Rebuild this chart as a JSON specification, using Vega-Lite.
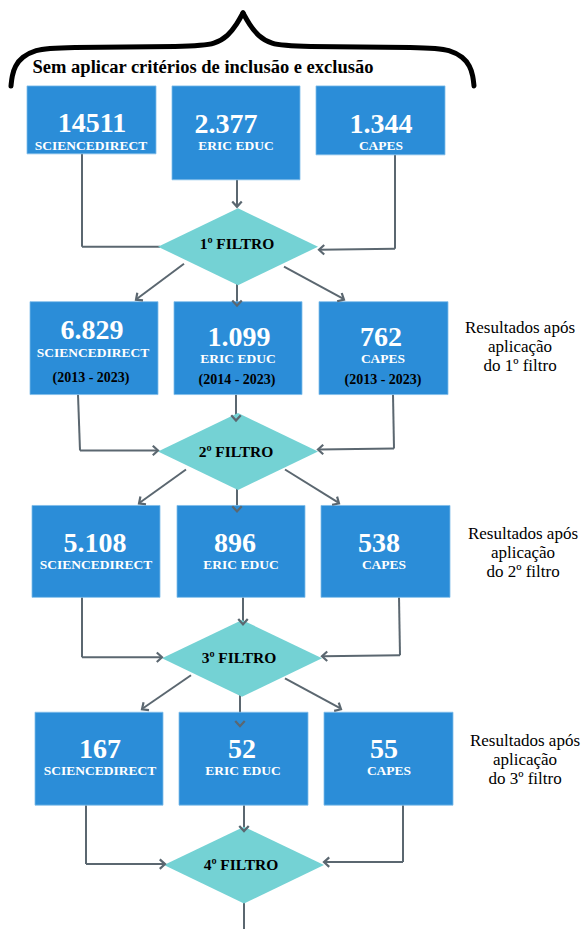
{
  "$schema": "https://vega.github.io/schema/vega-lite/v6.json",
  "width": 582,
  "height": 930,
  "autosize": {"type": "fit", "contains": "padding"},
  "padding": 0,
  "background": "white",
  "config": {"view": {"stroke": null}, "text": {"font": "Liberation Serif"}},
  "datasets": {
    "brace": [
      {"half": "L", "o": 1, "x": 11, "y": 86}, {"half": "L", "o": 2, "x": 12, "y": 76}, {"half": "L", "o": 3, "x": 15, "y": 66}, {"half": "L", "o": 4, "x": 22, "y": 57}, {"half": "L", "o": 5, "x": 35, "y": 50}, {"half": "L", "o": 6, "x": 55, "y": 47}, {"half": "L", "o": 7, "x": 195, "y": 47}, {"half": "L", "o": 8, "x": 215, "y": 44}, {"half": "L", "o": 9, "x": 228, "y": 36}, {"half": "L", "o": 10, "x": 237, "y": 24}, {"half": "L", "o": 11, "x": 243, "y": 13},
      {"half": "R", "o": 1, "x": 243, "y": 13}, {"half": "R", "o": 2, "x": 249, "y": 24}, {"half": "R", "o": 3, "x": 258, "y": 36}, {"half": "R", "o": 4, "x": 271, "y": 44}, {"half": "R", "o": 5, "x": 291, "y": 47}, {"half": "R", "o": 6, "x": 430, "y": 47}, {"half": "R", "o": 7, "x": 450, "y": 50}, {"half": "R", "o": 8, "x": 463, "y": 57}, {"half": "R", "o": 9, "x": 470, "y": 66}, {"half": "R", "o": 10, "x": 473, "y": 76}, {"half": "R", "o": 11, "x": 474, "y": 86}
    ],
    "links": [
      {"x": 82, "y": 154, "x2": 82, "y2": 247}, {"x": 82, "y": 247, "x2": 160, "y2": 247},
      {"x": 237, "y": 180, "x2": 237, "y2": 206},
      {"x": 395, "y": 155, "x2": 395, "y2": 249}, {"x": 395, "y": 249, "x2": 319, "y2": 250},
      {"x": 184, "y": 264, "x2": 137, "y2": 299}, {"x": 237, "y": 280, "x2": 237, "y2": 305}, {"x": 284, "y": 267, "x2": 343, "y2": 299},
      {"x": 78, "y": 395, "x2": 80, "y2": 451}, {"x": 80, "y": 451, "x2": 157, "y2": 451},
      {"x": 236, "y": 395, "x2": 236, "y2": 420},
      {"x": 393, "y": 395, "x2": 394, "y2": 449}, {"x": 394, "y": 449, "x2": 319, "y2": 450},
      {"x": 186, "y": 470, "x2": 140, "y2": 503}, {"x": 237, "y": 485, "x2": 237, "y2": 511}, {"x": 285, "y": 470, "x2": 338, "y2": 503},
      {"x": 82, "y": 598, "x2": 82, "y2": 658}, {"x": 82, "y": 658, "x2": 161, "y2": 658},
      {"x": 243, "y": 598, "x2": 243, "y2": 624},
      {"x": 399, "y": 598, "x2": 400, "y2": 656}, {"x": 400, "y": 656, "x2": 323, "y2": 657},
      {"x": 191, "y": 676, "x2": 143, "y2": 709}, {"x": 240, "y": 690, "x2": 240, "y2": 726}, {"x": 285, "y": 679, "x2": 340, "y2": 709},
      {"x": 86, "y": 806, "x2": 86, "y2": 865}, {"x": 86, "y": 865, "x2": 164, "y2": 865},
      {"x": 244, "y": 806, "x2": 244, "y2": 831},
      {"x": 403, "y": 806, "x2": 403, "y2": 863}, {"x": 403, "y": 863, "x2": 325, "y2": 863},
      {"x": 244, "y": 895, "x2": 244, "y2": 930}
    ],
    "heads": [
      {"x": 237, "y": 207, "angle": 0}, {"x": 319, "y": 250, "angle": 90}, {"x": 136, "y": 300, "angle": 53}, {"x": 237, "y": 306, "angle": 0}, {"x": 344, "y": 300, "angle": -61},
      {"x": 158, "y": 451, "angle": -90}, {"x": 236, "y": 421, "angle": 0}, {"x": 318, "y": 450, "angle": 90}, {"x": 139, "y": 504, "angle": 54}, {"x": 237, "y": 512, "angle": 0}, {"x": 339, "y": 504, "angle": -58},
      {"x": 162, "y": 658, "angle": -90}, {"x": 243, "y": 625, "angle": 0}, {"x": 322, "y": 657, "angle": 90}, {"x": 142, "y": 710, "angle": 55}, {"x": 240, "y": 727, "angle": 0}, {"x": 341, "y": 710, "angle": -61},
      {"x": 165, "y": 865, "angle": -90}, {"x": 244, "y": 832, "angle": 0}, {"x": 324, "y": 863, "angle": 90}
    ],
    "boxes": [
      {"x": 27, "x2": 156, "y": 86, "y2": 154}, {"x": 172, "x2": 300, "y": 86, "y2": 180}, {"x": 316, "x2": 445, "y": 86, "y2": 155},
      {"x": 30, "x2": 158, "y": 302, "y2": 395}, {"x": 174, "x2": 302, "y": 302, "y2": 395}, {"x": 319, "x2": 448, "y": 302, "y2": 395},
      {"x": 32, "x2": 160, "y": 506, "y2": 598}, {"x": 177, "x2": 305, "y": 506, "y2": 598}, {"x": 321, "x2": 450, "y": 506, "y2": 598},
      {"x": 35, "x2": 163, "y": 713, "y2": 806}, {"x": 179, "x2": 308, "y": 713, "y2": 806}, {"x": 324, "x2": 453, "y": 713, "y2": 806}
    ],
    "diamonds": [
      {"x": 238, "y": 247}, {"x": 238, "y": 452}, {"x": 242, "y": 659}, {"x": 244, "y": 866}
    ],
    "texts": [
      {"kind": "title", "x": 203, "y": 67, "t": "Sem aplicar critérios de inclusão e exclusão"},
      {"kind": "num", "x": 92, "y": 124, "t": "14511"}, {"kind": "num", "x": 226, "y": 125, "t": "2.377"}, {"kind": "num", "x": 381, "y": 125, "t": "1.344"},
      {"kind": "num", "x": 92, "y": 331, "t": "6.829"}, {"kind": "num", "x": 239, "y": 338, "t": "1.099"}, {"kind": "num", "x": 381, "y": 338, "t": "762"},
      {"kind": "num", "x": 95, "y": 545, "t": "5.108"}, {"kind": "num", "x": 235, "y": 545, "t": "896"}, {"kind": "num", "x": 379, "y": 545, "t": "538"},
      {"kind": "num", "x": 100, "y": 751, "t": "167"}, {"kind": "num", "x": 242, "y": 751, "t": "52"}, {"kind": "num", "x": 384, "y": 751, "t": "55"},
      {"kind": "label", "x": 91, "y": 146, "t": "SCIENCEDIRECT"}, {"kind": "label", "x": 236, "y": 146, "t": "ERIC EDUC"}, {"kind": "label", "x": 381, "y": 146, "t": "CAPES"},
      {"kind": "label", "x": 93, "y": 353, "t": "SCIENCEDIRECT"}, {"kind": "label", "x": 238, "y": 359, "t": "ERIC EDUC"}, {"kind": "label", "x": 383, "y": 359, "t": "CAPES"},
      {"kind": "label", "x": 96, "y": 566, "t": "SCIENCEDIRECT"}, {"kind": "label", "x": 241, "y": 566, "t": "ERIC EDUC"}, {"kind": "label", "x": 384, "y": 566, "t": "CAPES"},
      {"kind": "label", "x": 100, "y": 772, "t": "SCIENCEDIRECT"}, {"kind": "label", "x": 243, "y": 772, "t": "ERIC EDUC"}, {"kind": "label", "x": 389, "y": 772, "t": "CAPES"},
      {"kind": "years", "x": 91, "y": 378, "t": "(2013 - 2023)"}, {"kind": "years", "x": 237, "y": 380, "t": "(2014 - 2023)"}, {"kind": "years", "x": 383, "y": 380, "t": "(2013 - 2023)"},
      {"kind": "filter", "x": 237, "y": 244, "t": "1º FILTRO"}, {"kind": "filter", "x": 236, "y": 452, "t": "2º FILTRO"}, {"kind": "filter", "x": 239, "y": 659, "t": "3º FILTRO"}, {"kind": "filter", "x": 241, "y": 866, "t": "4º FILTRO"},
      {"kind": "note", "x": 520, "y": 328, "t": "Resultados após"}, {"kind": "note", "x": 520, "y": 347, "t": "aplicação"}, {"kind": "note", "x": 520, "y": 366, "t": "do 1º filtro"},
      {"kind": "note", "x": 523, "y": 535, "t": "Resultados após"}, {"kind": "note", "x": 523, "y": 554, "t": "aplicação"}, {"kind": "note", "x": 523, "y": 573, "t": "do 2º filtro"},
      {"kind": "note", "x": 525, "y": 742, "t": "Resultados após"}, {"kind": "note", "x": 525, "y": 761, "t": "aplicação"}, {"kind": "note", "x": 525, "y": 780, "t": "do 3º filtro"}
    ]
  },
  "encoding": {
    "x": {"field": "x", "type": "quantitative", "scale": {"domain": [0, 582], "nice": false, "zero": false}, "axis": null},
    "y": {"field": "y", "type": "quantitative", "scale": {"domain": [0, 930], "nice": false, "zero": false, "reverse": true}, "axis": null}
  },
  "layer": [
    {
      "data": {"name": "brace"},
      "mark": {"type": "line", "interpolate": "basis", "color": "black", "strokeWidth": 5, "strokeCap": "round"},
      "encoding": {"detail": {"field": "half"}, "order": {"field": "o", "type": "quantitative"}}
    },
    {
      "data": {"name": "links"},
      "mark": {"type": "rule", "color": "#5b6770", "strokeWidth": 2},
      "encoding": {"x2": {"field": "x2"}, "y2": {"field": "y2"}}
    },
    {
      "data": {"name": "diamonds"},
      "mark": {"type": "point", "shape": "M-1,0L0,-0.48L1,0L0,0.48Z", "filled": true, "color": "#74d2d4", "opacity": 1, "size": 25600, "strokeWidth": 0}
    },
    {
      "data": {"name": "boxes"},
      "mark": {"type": "rect", "color": "#2b8dd8", "stroke": "#7fbcea", "strokeWidth": 0.8},
      "encoding": {"x2": {"field": "x2"}, "y2": {"field": "y2"}}
    },
    {
      "data": {"name": "heads"},
      "mark": {"type": "point", "shape": "M-1,-1.1L0,0L1,-1.1", "filled": false, "color": "#5b6770", "opacity": 1, "size": 90, "strokeWidth": 2.2},
      "encoding": {"angle": {"field": "angle", "type": "quantitative", "scale": null}}
    },
    {
      "data": {"name": "texts"},
      "transform": [{"filter": "datum.kind === 'title'"}],
      "mark": {"type": "text", "font": "Liberation Serif", "fontWeight": "bold", "fontSize": 18.5, "color": "black", "baseline": "middle", "align": "center"},
      "encoding": {"text": {"field": "t"}}
    },
    {
      "data": {"name": "texts"},
      "transform": [{"filter": "datum.kind === 'num'"}],
      "mark": {"type": "text", "font": "Liberation Serif", "fontWeight": "bold", "fontSize": 28, "color": "white", "baseline": "middle", "align": "center"},
      "encoding": {"text": {"field": "t"}}
    },
    {
      "data": {"name": "texts"},
      "transform": [{"filter": "datum.kind === 'label'"}],
      "mark": {"type": "text", "font": "Liberation Serif", "fontWeight": "bold", "fontSize": 13.5, "color": "white", "baseline": "middle", "align": "center"},
      "encoding": {"text": {"field": "t"}}
    },
    {
      "data": {"name": "texts"},
      "transform": [{"filter": "datum.kind === 'years'"}],
      "mark": {"type": "text", "font": "Liberation Serif", "fontWeight": "bold", "fontSize": 14, "color": "black", "baseline": "middle", "align": "center"},
      "encoding": {"text": {"field": "t"}}
    },
    {
      "data": {"name": "texts"},
      "transform": [{"filter": "datum.kind === 'filter'"}],
      "mark": {"type": "text", "font": "Liberation Serif", "fontWeight": "bold", "fontSize": 15.5, "color": "black", "baseline": "middle", "align": "center"},
      "encoding": {"text": {"field": "t"}}
    },
    {
      "data": {"name": "texts"},
      "transform": [{"filter": "datum.kind === 'note'"}],
      "mark": {"type": "text", "font": "Liberation Serif", "fontSize": 17, "color": "black", "baseline": "middle", "align": "center"},
      "encoding": {"text": {"field": "t"}}
    }
  ]
}
